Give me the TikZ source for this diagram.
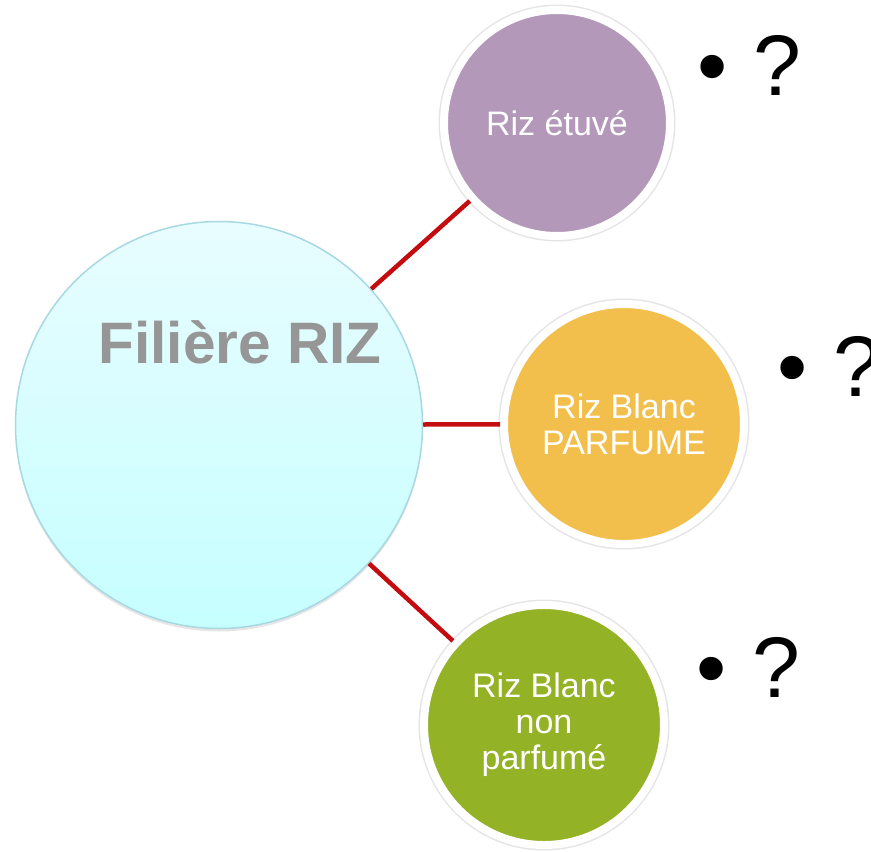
\documentclass[tikz,border=0pt]{standalone}
\usepackage{fontspec}
\setmainfont{Liberation Sans}
\usetikzlibrary{shadows}
\definecolor{violet}{RGB}{179,152,186}
\definecolor{orangeriz}{RGB}{242,191,76}
\definecolor{vertriz}{RGB}{148,178,37}
\definecolor{rouge}{RGB}{196,12,16}
\definecolor{grisfil}{RGB}{150,150,150}
\begin{document}
\begin{tikzpicture}[x=1pt, y=-1pt,
    bulle/.style={circle, draw=white, line width=8pt, text=white, align=center,
        font=\fontsize{34}{36}\selectfont,
        preaction={draw=black!10, line width=11pt},
        drop shadow={shadow xshift=0pt, shadow yshift=-3pt, opacity=0.15}},
    lien/.style={draw=rouge, line width=4.5pt},
    question/.style={anchor=base west, font=\fontsize{86}{90}\selectfont}]
    \useasboundingbox (0,0) rectangle (871,852);
    % grand cercle
    \node[circle, minimum size=407pt, draw={rgb,255:red,168;green,216;blue,226}, line width=1.5pt,
        top color={rgb,255:red,232;green,253;blue,255}, bottom color={rgb,255:red,198;green,254;blue,255},
        drop shadow={shadow xshift=0pt, shadow yshift=-3pt, opacity=0.2}] (filiere) at (219,425) {};
    \node[anchor=base, text=grisfil, font=\fontsize{58.5}{60}\selectfont\bfseries] (titre) at (240,363) {Filière RIZ};
    % les trois riz
    \node[bulle, fill=violet, minimum size=226pt] (etuve) at (557,123) {Riz étuvé};
    \node[bulle, fill=orangeriz, minimum size=240pt] (parfume) at (624,424) {Riz Blanc\\PARFUME};
    \node[bulle, fill=vertriz, minimum size=240pt] (nonparfume) at (544,725) {Riz Blanc\\non\\parfumé};
    \draw[lien] (filiere) -- (etuve);
    \draw[lien] (filiere) -- (parfume);
    \draw[lien] (filiere) -- (nonparfume);
    % points d'interrogation
    \node[question] (q1) at (694,95) {•\hspace{26pt}?};
    \node[question] (q2) at (774,396) {•\hspace{26pt}?};
    \node[question] (q3) at (693,697) {•\hspace{26pt}?};
\end{tikzpicture}
\end{document}
